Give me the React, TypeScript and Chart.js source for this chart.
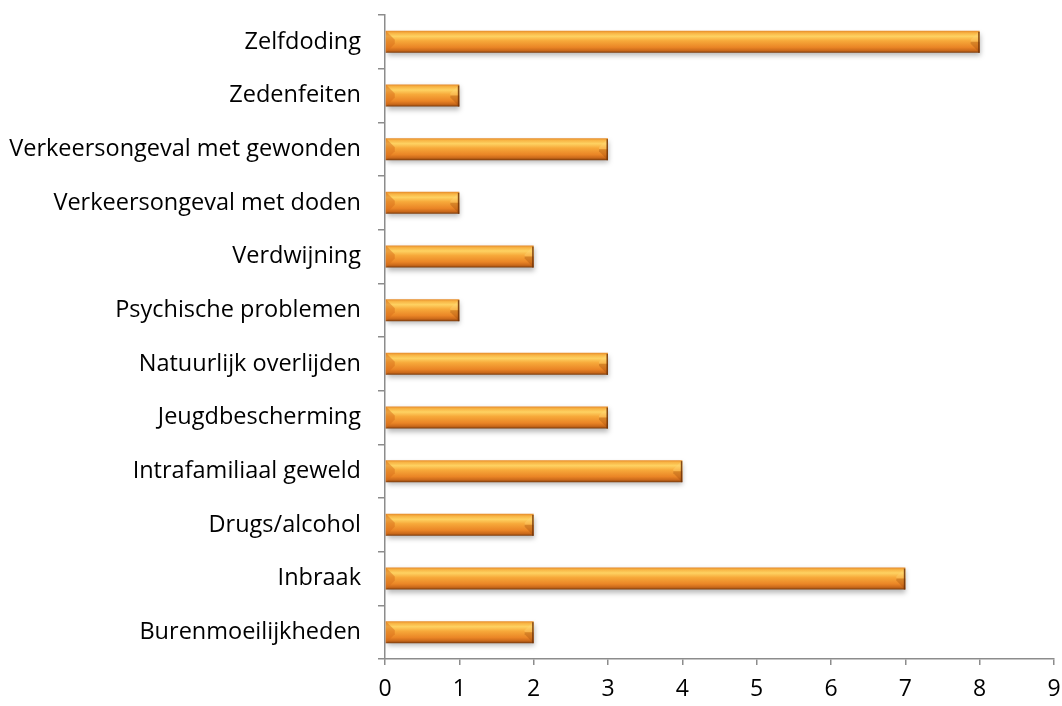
import React, { useEffect, useRef } from "react";
import { Chart, registerables } from "chart.js";

Chart.register(...registerables);

const categories = [
  "Burenmoeilijkheden",
  "Inbraak",
  "Drugs/alcohol",
  "Intrafamiliaal geweld",
  "Jeugdbescherming",
  "Natuurlijk overlijden",
  "Psychische problemen",
  "Verdwijning",
  "Verkeersongeval met doden",
  "Verkeersongeval met gewonden",
  "Zedenfeiten",
  "Zelfdoding",
];
const values = [2, 7, 2, 4, 3, 3, 1, 2, 1, 3, 1, 8];
const xMin = 0;
const xMax = 9;

const FONT = "'Open Sans', 'Noto Sans', sans-serif";
const AXIS = "#8c8c8c";
const BAR_PCT = 0.41;

function barFill(c: any) {
  const chart = c.chart;
  const ys = chart.scales && chart.scales.y;
  if (!ys || c.dataIndex == null || !ys.height) return "#f0a040";
  const yc = ys.getPixelForValue(c.dataIndex);
  const h = (ys.height / categories.length) * BAR_PCT;
  const top = yc - h / 2;
  const bot = yc + h / 2;
  const g = chart.ctx.createLinearGradient(0, top, 0, bot);
  g.addColorStop(0, "#e58a2a");
  g.addColorStop(0.1, "#f8b444");
  g.addColorStop(0.25, "#fed262");
  g.addColorStop(0.45, "#f7a93a");
  g.addColorStop(0.75, "#ea8526");
  g.addColorStop(0.9, "#c9681a");
  g.addColorStop(1, "#7a3b0c");
  return g;
}

const bevelPlugin = {
  id: "bevel",
  beforeDatasetDraw(chart: any) {
    const ctx = chart.ctx;
    ctx.save();
    ctx.shadowColor = "rgba(0,0,0,0.28)";
    ctx.shadowBlur = 5;
    ctx.shadowOffsetY = 3;
    ctx.shadowOffsetX = 1;
  },
  afterDatasetDraw(chart: any, args: any) {
    const ctx = chart.ctx;
    ctx.restore();
    const meta = args.meta;
    meta.data.forEach((el: any) => {
      const x0 = Math.min(el.base, el.x);
      const x1 = Math.max(el.base, el.x);
      const y0 = el.y - el.height / 2;
      const y1 = el.y + el.height / 2;
      const b = Math.min(9, (x1 - x0) / 2);
      ctx.save();
      ctx.beginPath();
      ctx.moveTo(x0, y0);
      ctx.lineTo(x0 + b, y0 + b);
      ctx.lineTo(x0 + b, y1 - b);
      ctx.lineTo(x0, y1);
      ctx.closePath();
      ctx.fillStyle = "rgba(215,110,25,0.5)";
      ctx.fill();
      ctx.beginPath();
      ctx.moveTo(x1, y0);
      ctx.lineTo(x1 - b, y0 + b);
      ctx.lineTo(x1 - b, (y0 + y1) / 2);
      ctx.lineTo(x1, (y0 + y1) / 2);
      ctx.closePath();
      ctx.fillStyle = "rgba(255,215,120,0.35)";
      ctx.fill();
      ctx.beginPath();
      ctx.moveTo(x1, (y0 + y1) / 2);
      ctx.lineTo(x1 - b, (y0 + y1) / 2);
      ctx.lineTo(x1 - b, y1 - b);
      ctx.lineTo(x1, y1);
      ctx.closePath();
      ctx.fillStyle = "rgba(150,70,10,0.3)";
      ctx.fill();
      ctx.fillStyle = "rgba(110,50,8,0.85)";
      ctx.fillRect(x1 - 1.5, y0 + 1, 1.5, y1 - y0 - 1);
      ctx.restore();
    });
  },
};

export default function App() {
  const ref = useRef<HTMLCanvasElement | null>(null);
  useEffect(() => {
    if (!ref.current) return;
    const chart = new Chart(ref.current, {
      type: "bar",
      data: {
        labels: categories,
        datasets: [
          {
            data: values,
            backgroundColor: barFill,
            borderWidth: 0,
            categoryPercentage: 1,
            barPercentage: BAR_PCT,
          },
        ],
      },
      options: {
        indexAxis: "y",
        animation: false,
        responsive: false,
        maintainAspectRatio: false,
        layout: { padding: { top: 15, right: 8, left: 0, bottom: 0 } },
        plugins: {
          legend: { display: false },
          tooltip: { enabled: false },
        },
        scales: {
          x: {
            min: xMin,
            max: xMax,
            ticks: {
              stepSize: 1,
              color: "#000",
              font: { family: FONT, size: 23 },
              padding: 11,
            },
            grid: {
              drawOnChartArea: false,
              drawTicks: true,
              tickLength: 6,
              color: AXIS,
              lineWidth: 1.5,
            },
            border: { display: true, color: AXIS, width: 1.5 },
            afterFit: (s: any) => {
              s.height = 47;
              s.paddingLeft = 0;
              s.paddingRight = 0;
            },
          },
          y: {
            reverse: true,
            offset: true,
            ticks: {
              color: "#000",
              font: { family: FONT, size: 23.5 },
              padding: 17,
            },
            grid: {
              offset: true,
              drawOnChartArea: false,
              drawTicks: true,
              tickLength: 7,
              color: AXIS,
              lineWidth: 1.5,
            },
            border: { display: true, color: AXIS, width: 1.5 },
            afterFit: (s: any) => {
              s.width = 385;
              s.paddingTop = 0;
              s.paddingBottom = 0;
            },
          },
        },
      },
      plugins: [bevelPlugin],
    });
    return () => chart.destroy();
  }, []);
  return (
    <div style={{ position: "fixed", left: 0, top: 0, width: 1062, height: 706, background: "#fff" }}>
      <canvas ref={ref} width={1062} height={706} style={{ display: "block" }} />
    </div>
  );
}
